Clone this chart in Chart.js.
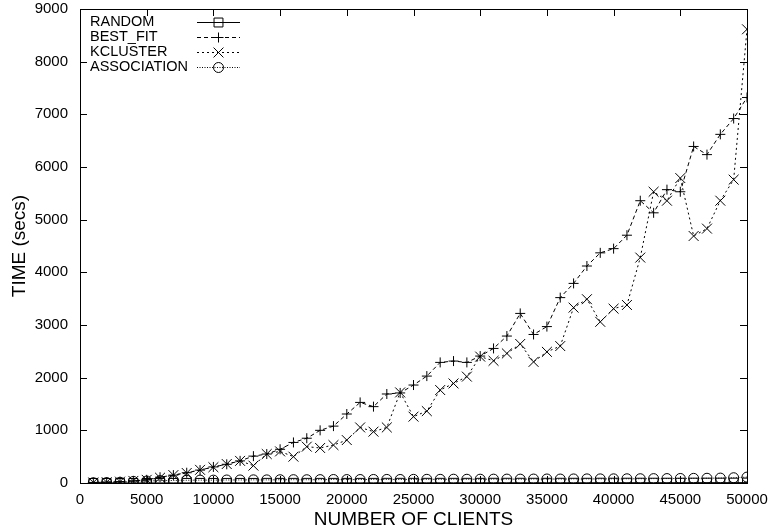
<!DOCTYPE html>
<html>
<head>
<meta charset="utf-8">
<title>Time vs number of clients</title>
<script src="https://cdn.jsdelivr.net/npm/chart.js@4.4.1/dist/chart.umd.min.js"></script>
<style>
  html, body { margin: 0; padding: 0; background: #fff; }
  #wrap { width: 768px; height: 531px; }
</style>
</head>
<body>
<div id="wrap"><canvas id="timeChart" width="768" height="531"></canvas></div>
<script>
// number of clients (x values)
var clients = [1000, 2000, 3000, 4000, 5000, 6000, 7000, 8000, 9000, 10000,
  11000, 12000, 13000, 14000, 15000, 16000, 17000, 18000, 19000, 20000,
  21000, 22000, 23000, 24000, 25000, 26000, 27000, 28000, 29000, 30000,
  31000, 32000, 33000, 34000, 35000, 36000, 37000, 38000, 39000, 40000,
  41000, 42000, 43000, 44000, 45000, 46000, 47000, 48000, 49000, 50000];

// running time in seconds for each placement method
var randomTimes = [1, 1, 1, 1, 1, 2, 2, 2, 2, 2,
  2, 2, 2, 3, 3, 3, 3, 3, 3, 3,
  3, 3, 4, 4, 4, 4, 4, 4, 4, 4,
  5, 5, 5, 5, 5, 5, 5, 5, 6, 6,
  6, 6, 6, 6, 6, 7, 7, 7, 7, 8];

var bestFitTimes = [10, 15, 25, 40, 60, 110, 150, 195, 245, 305,
  355, 420, 510, 550, 640, 770, 850, 1000, 1080, 1310,
  1530, 1450, 1690, 1710, 1860, 2030, 2290, 2315, 2290, 2410,
  2555, 2790, 3220, 2820, 2970, 3520, 3790, 4120, 4370, 4450,
  4705, 5360, 5130, 5570, 5530, 6390, 6235, 6620, 6920, 7320];

var kclusterTimes = [10, 15, 25, 40, 60, 100, 150, 190, 250, 300,
  360, 420, 330, 550, 600, 500, 690, 665, 720, 815,
  1055, 975, 1055, 1720, 1260, 1365, 1765, 1890, 2020, 2400,
  2320, 2460, 2640, 2300, 2490, 2600, 3330, 3490, 3060, 3310,
  3380, 4280, 5530, 5360, 5790, 4690, 4830, 5360, 5760, 8615];

var associationTimes = [5, 8, 14, 30, 38, 45, 48, 52, 55, 54,
  57, 58, 60, 59, 62, 63, 62, 64, 66, 65,
  66, 67, 68, 67, 69, 70, 70, 72, 71, 72,
  73, 74, 73, 75, 76, 75, 77, 78, 78, 79,
  80, 81, 83, 84, 86, 88, 90, 93, 100, 112];

var xTicks = [0, 5000, 10000, 15000, 20000, 25000, 30000, 35000, 40000, 45000, 50000];
var yTicks = [0, 1000, 2000, 3000, 4000, 5000, 6000, 7000, 8000, 9000];

var FONT = "'Liberation Sans', Arial, Helvetica, sans-serif";

function toPoints(values) {
  return clients.map(function(c, i) { return { x: c, y: values[i] }; });
}

function series(label, values, style, dash, radius) {
  return {
    label: label,
    data: toPoints(values),
    borderColor: '#000',
    borderWidth: 1,
    borderDash: dash,
    pointStyle: style,
    pointRadius: radius,
    pointBorderColor: '#000',
    pointBackgroundColor: 'rgba(0,0,0,0)',
    pointBorderWidth: 1,
    fill: false,
    tension: 0
  };
}

// box around the plot with inward ticks on all four sides
var frame = {
  id: 'frame',
  afterDraw: function(chart) {
    var ctx = chart.ctx, a = chart.chartArea;
    var xs = chart.scales.x, ys = chart.scales.y;
    var len = 7;
    ctx.save();
    ctx.strokeStyle = '#000';
    ctx.lineWidth = 1;
    ctx.setLineDash([]);
    ctx.strokeRect(a.left + 0.5, a.top + 0.5, a.right - a.left, a.bottom - a.top);
    ctx.beginPath();
    xTicks.forEach(function(v) {
      var px = Math.round(xs.getPixelForValue(v)) + 0.5;
      ctx.moveTo(px, a.bottom); ctx.lineTo(px, a.bottom - len);
      ctx.moveTo(px, a.top); ctx.lineTo(px, a.top + len);
    });
    yTicks.forEach(function(v) {
      var py = Math.round(ys.getPixelForValue(v)) + 0.5;
      ctx.moveTo(a.left, py); ctx.lineTo(a.left + len, py);
      ctx.moveTo(a.right, py); ctx.lineTo(a.right - len, py);
    });
    ctx.stroke();
    ctx.restore();
  }
};

// key in the top left corner: label, then a line sample with its marker
var key = {
  id: 'key',
  afterDraw: function(chart) {
    var ctx = chart.ctx;
    var textX = 90, lineX0 = 197, lineX1 = 240, rowY = 22, rowH = 15;
    ctx.save();
    ctx.font = '14.5px ' + FONT;
    ctx.textBaseline = 'middle';
    ctx.textAlign = 'left';
    chart.data.datasets.forEach(function(ds, i) {
      var y = rowY + i * rowH;
      ctx.fillStyle = '#000';
      ctx.fillText(ds.label, textX, y);
      ctx.strokeStyle = '#000';
      ctx.lineWidth = 1;
      ctx.setLineDash(ds.borderDash || []);
      ctx.beginPath();
      ctx.moveTo(lineX0, y + 0.5);
      ctx.lineTo(lineX1, y + 0.5);
      ctx.stroke();
      ctx.setLineDash([]);
      ctx.fillStyle = 'rgba(0,0,0,0)';
      Chart.helpers.drawPoint(ctx, {
        pointStyle: ds.pointStyle,
        radius: ds.pointRadius,
        rotation: 0,
        borderWidth: 1
      }, (lineX0 + lineX1) / 2, y + 0.5);
    });
    ctx.restore();
  }
};

var ctx = document.getElementById('timeChart').getContext('2d');
var chartInstance = new Chart(ctx, {
  type: 'line',
  data: {
    datasets: [
      series('RANDOM', randomTimes, 'rect', [], 6.3),
      series('BEST_FIT', bestFitTimes, 'cross', [4, 3], 5),
      series('KCLUSTER', kclusterTimes, 'crossRot', [2, 3], 7),
      series('ASSOCIATION', associationTimes, 'circle', [1, 1.5], 5)
    ]
  },
  options: {
    responsive: false,
    animation: false,
    devicePixelRatio: 1,
    layout: { padding: { top: 9, right: 21, left: 0, bottom: 0 } },
    plugins: {
      legend: { display: false },
      tooltip: { enabled: false }
    },
    scales: {
      x: {
        type: 'linear',
        min: 0,
        max: 50000,
        afterBuildTicks: function(scale) {
          scale.ticks = xTicks.map(function(v) { return { value: v }; });
        },
        afterFit: function(scale) {
          scale.height = 48;
          scale.paddingLeft = 0;
          scale.paddingRight = 0;
        },
        grid: { display: false, drawTicks: false },
        border: { display: false },
        ticks: {
          color: '#000',
          font: { family: FONT, size: 15 },
          padding: 8,
          maxRotation: 0,
          autoSkip: false,
          callback: function(v) { return String(v); }
        },
        title: {
          display: true,
          text: 'NUMBER OF CLIENTS',
          color: '#000',
          font: { family: FONT, size: 19 },
          padding: { top: 0, bottom: 0 }
        }
      },
      y: {
        min: 0,
        max: 9000,
        afterBuildTicks: function(scale) {
          scale.ticks = yTicks.map(function(v) { return { value: v }; });
        },
        afterFit: function(scale) {
          scale.width = 80;
          scale.paddingTop = 0;
          scale.paddingBottom = 0;
        },
        grid: { display: false, drawTicks: false },
        border: { display: false },
        ticks: {
          color: '#000',
          font: { family: FONT, size: 15 },
          padding: 12,
          autoSkip: false,
          callback: function(v) { return String(v); }
        },
        title: {
          display: true,
          text: 'TIME (secs)',
          color: '#000',
          font: { family: FONT, size: 19 },
          padding: { top: 8, bottom: 0 }
        }
      }
    }
  },
  plugins: [frame, key]
});
</script>
</body>
</html>
